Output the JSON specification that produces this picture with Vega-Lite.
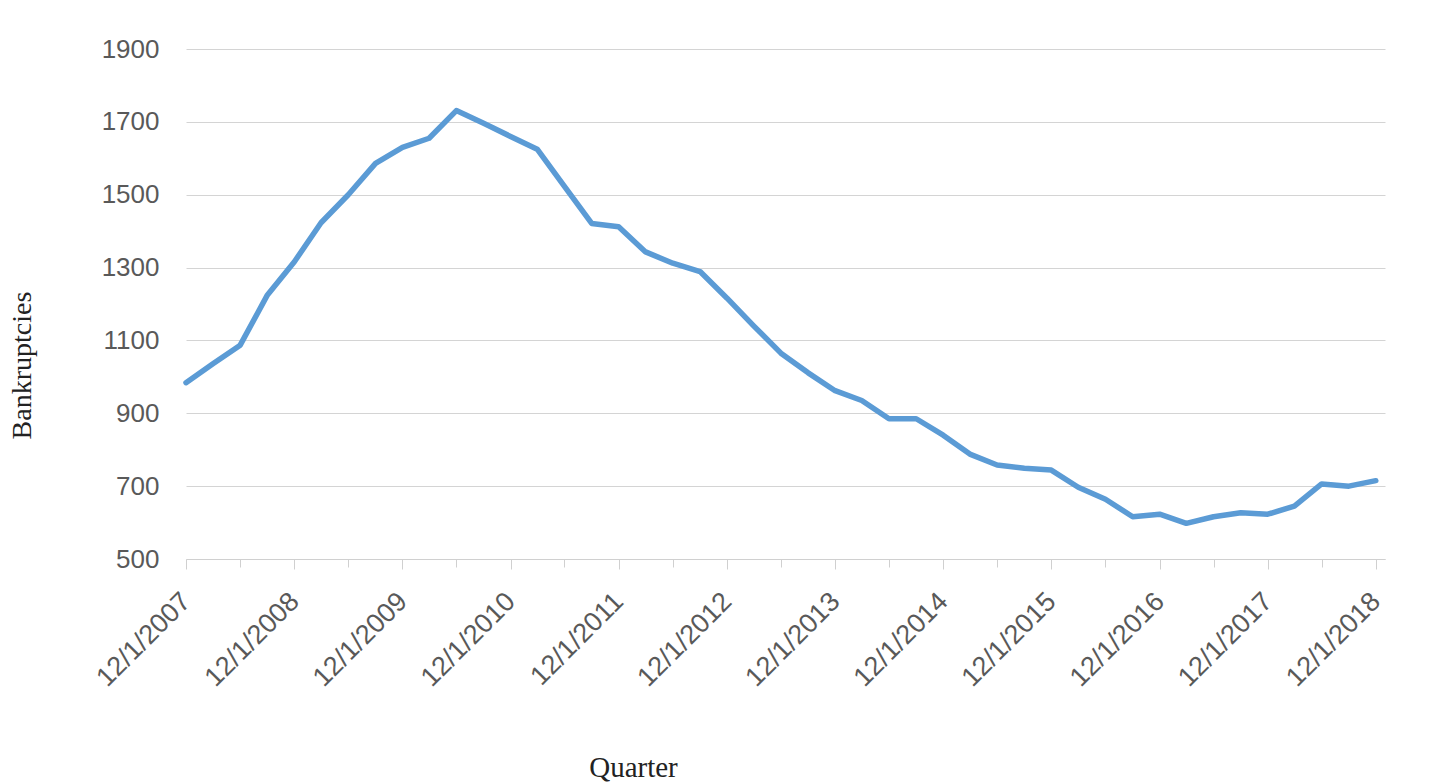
{
  "$schema": "https://vega.github.io/schema/vega-lite/v6.json",
  "autosize": {"type": "none"},
  "width": 1199,
  "height": 510,
  "padding": {"left": 186, "top": 49, "right": 49, "bottom": 223},
  "background": "white",
  "data": {
    "values": [
      {"quarter": "2007-12-01", "bankruptcies": 984},
      {"quarter": "2008-03-01", "bankruptcies": 1036},
      {"quarter": "2008-06-01", "bankruptcies": 1087},
      {"quarter": "2008-09-01", "bankruptcies": 1225},
      {"quarter": "2008-12-01", "bankruptcies": 1316},
      {"quarter": "2009-03-01", "bankruptcies": 1423},
      {"quarter": "2009-06-01", "bankruptcies": 1500},
      {"quarter": "2009-09-01", "bankruptcies": 1586},
      {"quarter": "2009-12-01", "bankruptcies": 1630},
      {"quarter": "2010-03-01", "bankruptcies": 1655},
      {"quarter": "2010-06-01", "bankruptcies": 1731},
      {"quarter": "2010-09-01", "bankruptcies": 1696},
      {"quarter": "2010-12-01", "bankruptcies": 1660},
      {"quarter": "2011-03-01", "bankruptcies": 1625},
      {"quarter": "2011-06-01", "bankruptcies": 1523},
      {"quarter": "2011-09-01", "bankruptcies": 1421},
      {"quarter": "2011-12-01", "bankruptcies": 1412},
      {"quarter": "2012-03-01", "bankruptcies": 1343},
      {"quarter": "2012-06-01", "bankruptcies": 1312},
      {"quarter": "2012-09-01", "bankruptcies": 1289},
      {"quarter": "2012-12-01", "bankruptcies": 1216},
      {"quarter": "2013-03-01", "bankruptcies": 1140},
      {"quarter": "2013-06-01", "bankruptcies": 1065},
      {"quarter": "2013-09-01", "bankruptcies": 1011},
      {"quarter": "2013-12-01", "bankruptcies": 962},
      {"quarter": "2014-03-01", "bankruptcies": 935},
      {"quarter": "2014-06-01", "bankruptcies": 885},
      {"quarter": "2014-09-01", "bankruptcies": 885},
      {"quarter": "2014-12-01", "bankruptcies": 840},
      {"quarter": "2015-03-01", "bankruptcies": 788},
      {"quarter": "2015-06-01", "bankruptcies": 758},
      {"quarter": "2015-09-01", "bankruptcies": 749},
      {"quarter": "2015-12-01", "bankruptcies": 744},
      {"quarter": "2016-03-01", "bankruptcies": 697},
      {"quarter": "2016-06-01", "bankruptcies": 664},
      {"quarter": "2016-09-01", "bankruptcies": 616},
      {"quarter": "2016-12-01", "bankruptcies": 623},
      {"quarter": "2017-03-01", "bankruptcies": 598},
      {"quarter": "2017-06-01", "bankruptcies": 616},
      {"quarter": "2017-09-01", "bankruptcies": 627},
      {"quarter": "2017-12-01", "bankruptcies": 623},
      {"quarter": "2018-03-01", "bankruptcies": 645},
      {"quarter": "2018-06-01", "bankruptcies": 706},
      {"quarter": "2018-09-01", "bankruptcies": 700},
      {"quarter": "2018-12-01", "bankruptcies": 715}
    ]
  },
  "mark": {"type": "line", "color": "#5b9bd5", "strokeWidth": 5.5, "strokeJoin": "round", "strokeCap": "round"},
  "encoding": {
    "x": {
      "field": "quarter",
      "type": "temporal",
      "scale": {"type": "utc", "domain": [{"year": 2007, "month": 12, "date": 1, "utc": true}, {"year": 2019, "month": 1, "date": 1, "utc": true}]},
      "axis": {
        "title": "Quarter",
        "titleFont": "Liberation Serif",
        "titleFontSize": 29,
        "titleFontWeight": "normal",
        "titleColor": "#222222",
        "titleX": 447,
        "titleY": 208,
        "titleBaseline": "middle",
        "titleAnchor": "middle",
        "values": [
          {"year": 2007, "month": 12, "date": 1, "utc": true},
          {"year": 2008, "month": 6, "date": 1, "utc": true},
          {"year": 2008, "month": 12, "date": 1, "utc": true},
          {"year": 2009, "month": 6, "date": 1, "utc": true},
          {"year": 2009, "month": 12, "date": 1, "utc": true},
          {"year": 2010, "month": 6, "date": 1, "utc": true},
          {"year": 2010, "month": 12, "date": 1, "utc": true},
          {"year": 2011, "month": 6, "date": 1, "utc": true},
          {"year": 2011, "month": 12, "date": 1, "utc": true},
          {"year": 2012, "month": 6, "date": 1, "utc": true},
          {"year": 2012, "month": 12, "date": 1, "utc": true},
          {"year": 2013, "month": 6, "date": 1, "utc": true},
          {"year": 2013, "month": 12, "date": 1, "utc": true},
          {"year": 2014, "month": 6, "date": 1, "utc": true},
          {"year": 2014, "month": 12, "date": 1, "utc": true},
          {"year": 2015, "month": 6, "date": 1, "utc": true},
          {"year": 2015, "month": 12, "date": 1, "utc": true},
          {"year": 2016, "month": 6, "date": 1, "utc": true},
          {"year": 2016, "month": 12, "date": 1, "utc": true},
          {"year": 2017, "month": 6, "date": 1, "utc": true},
          {"year": 2017, "month": 12, "date": 1, "utc": true},
          {"year": 2018, "month": 6, "date": 1, "utc": true},
          {"year": 2018, "month": 12, "date": 1, "utc": true}
        ],
        "labelExpr": "utcmonth(datum.value) == 11 ? utcFormat(datum.value, '%-m/%-d/%Y') : ''",
        "labelAngle": -45,
        "labelAlign": "right",
        "labelBaseline": "middle",
        "labelFont": "Liberation Sans",
        "labelFontSize": 27,
        "labelColor": "#595959",
        "labelPadding": 28,
        "labelOverlap": false,
        "labelFlush": false,
        "grid": false,
        "domainColor": "#d0d0d0",
        "domainWidth": 1,
        "tickColor": "#d0d0d0",
        "tickWidth": 1,
        "tickSize": {"condition": {"test": "utcmonth(datum.value) == 11", "value": 10}, "value": 8}
      }
    },
    "y": {
      "field": "bankruptcies",
      "type": "quantitative",
      "scale": {"domain": [500, 1900], "nice": false, "zero": false},
      "axis": {
        "title": "Bankruptcies",
        "titleFont": "Liberation Serif",
        "titleFontSize": 28,
        "titleFontWeight": "normal",
        "titleColor": "#222222",
        "titleX": -164,
        "titleY": 316,
        "titleAngle": -90,
        "titleBaseline": "middle",
        "titleAnchor": "middle",
        "values": [500, 700, 900, 1100, 1300, 1500, 1700, 1900],
        "format": "d",
        "labelFont": "Liberation Sans",
        "labelFontSize": 26,
        "labelColor": "#595959",
        "labelPadding": 27,
        "ticks": false,
        "tickSize": 0,
        "domain": false,
        "grid": true,
        "gridColor": "#d4d4d4",
        "gridWidth": 1
      }
    }
  },
  "config": {"view": {"stroke": null}}
}
